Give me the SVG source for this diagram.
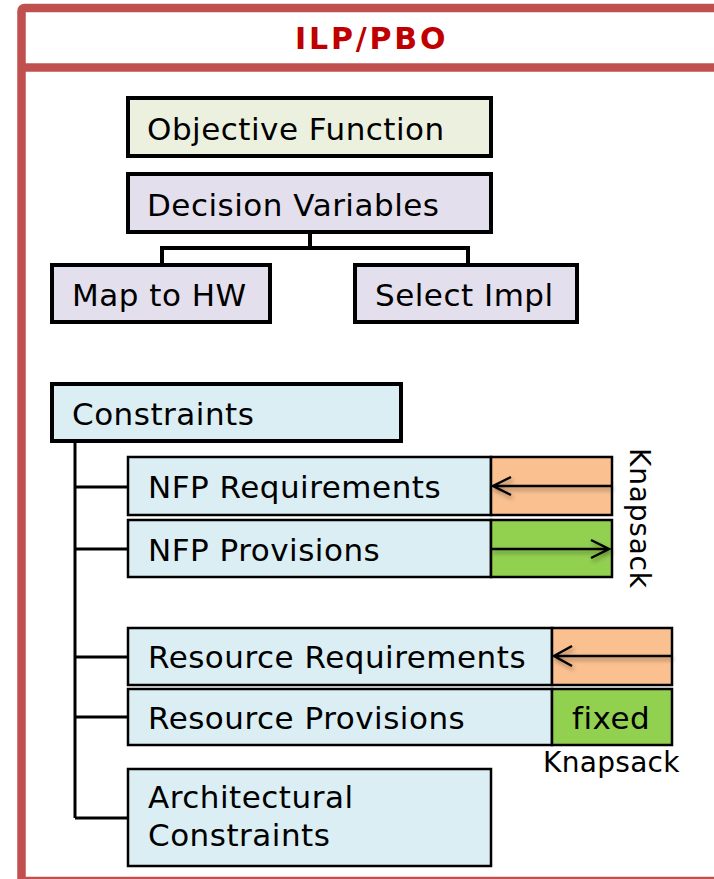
<svg xmlns="http://www.w3.org/2000/svg" width="714" height="879" viewBox="0 0 714 879">
  <style>
    .lbl { font-family: "DejaVu Sans", Verdana, sans-serif; font-size: 31px; letter-spacing: 0.5px; fill: #000; }
    .side { font-family: "DejaVu Sans", Verdana, sans-serif; font-size: 28px; fill: #000; }
    .title { font-family: "DejaVu Sans", Verdana, sans-serif; font-size: 30px; font-weight: bold; letter-spacing: 2.8px; fill: #C00000; }
    .frame { fill: none; stroke: #C0504D; stroke-width: 8.5; }
    .thick { stroke: #000; stroke-width: 4; }
    .thin { stroke: #000; stroke-width: 2.5; }
    .obj { fill: #EBF1DE; }
    .dec { fill: #E4DFEC; }
    .con { fill: #DBEEF4; }
    .req { fill: #FAC090; }
    .prov { fill: #92D050; }
    .wire { fill: none; stroke: #000; }
    .arrow { fill: none; stroke: #000; stroke-width: 2.5; stroke-linejoin: miter; filter: url(#shadow); }
  </style>
  <defs>
    <filter id="shadow" x="-20%" y="-50%" width="140%" height="250%">
      <feDropShadow dx="1.5" dy="3" stdDeviation="2" flood-color="#000" flood-opacity="0.35"/>
    </filter>
  </defs>

  <!-- outer frame with header band -->
  <g id="frame">
    <rect class="frame" x="21.5" y="8" width="720" height="873" rx="3"/>
    <line class="frame" x1="21.5" y1="67.5" x2="714" y2="67.5"/>
    <text class="title" x="295" y="49">ILP/PBO</text>
  </g>

  <!-- connectors -->
  <g id="connectors">
    <path class="wire" stroke-width="4" d="M310 234 V248 M162 265 V248 H468 V265"/>
    <path class="wire" stroke-width="3" d="M75 443 V818 M75 487 H128 M75 549 H128 M75 657 H128 M75 717 H128 M75 818 H128"/>
  </g>

  <g id="objective">
    <rect class="obj thick" x="128" y="98" width="363" height="58"/>
    <text class="lbl" x="147" y="140">Objective Function</text>
  </g>

  <g id="decision">
    <rect class="dec thick" x="128" y="174" width="363" height="58"/>
    <text class="lbl" x="147" y="216">Decision Variables</text>
  </g>

  <g id="map-hw">
    <rect class="dec thick" x="52" y="265" width="218" height="57"/>
    <text class="lbl" x="72" y="306">Map to HW</text>
  </g>

  <g id="select-impl">
    <rect class="dec thick" x="355" y="265" width="222" height="57"/>
    <text class="lbl" x="375" y="306">Select Impl</text>
  </g>

  <g id="constraints">
    <rect class="con thick" x="52" y="384" width="349" height="57"/>
    <text class="lbl" x="72" y="425">Constraints</text>
  </g>

  <g id="nfp-req">
    <rect class="con thin" x="128" y="457" width="363" height="58"/>
    <rect class="req thin" x="491" y="457" width="121" height="58"/>
    <text class="lbl" x="148" y="498">NFP Requirements</text>
    <path class="arrow" d="M612 486 H493 M511 477 L493 486 L511 495"/>
  </g>

  <g id="nfp-prov">
    <rect class="con thin" x="128" y="520" width="363" height="57"/>
    <rect class="prov thin" x="491" y="520" width="121" height="57"/>
    <text class="lbl" x="148" y="561">NFP Provisions</text>
    <path class="arrow" d="M491 549 H609 M591 540 L609 549 L591 558"/>
  </g>

  <text id="knapsack-nfp" class="side" transform="translate(630 448) rotate(90)" letter-spacing="0.8">Knapsack</text>

  <g id="res-req">
    <rect class="con thin" x="128" y="628" width="424" height="57"/>
    <rect class="req thin" x="552" y="628" width="120" height="57"/>
    <text class="lbl" x="148" y="668">Resource Requirements</text>
    <path class="arrow" d="M672 656 H554 M572 646 L554 656 L572 666"/>
  </g>

  <g id="res-prov">
    <rect class="con thin" x="128" y="689" width="424" height="56"/>
    <rect class="prov thin" x="552" y="689" width="120" height="56"/>
    <text class="lbl" x="148" y="729">Resource Provisions</text>
    <text class="lbl" x="572" y="729" font-size="30">fixed</text>
  </g>

  <text id="knapsack-res" class="side" x="543" y="772" letter-spacing="0.3">Knapsack</text>

  <g id="architectural">
    <rect class="con thin" x="128" y="769" width="363" height="97"/>
    <text class="lbl" x="148" y="808">Architectural</text>
    <text class="lbl" x="148" y="846">Constraints</text>
  </g>
</svg>
